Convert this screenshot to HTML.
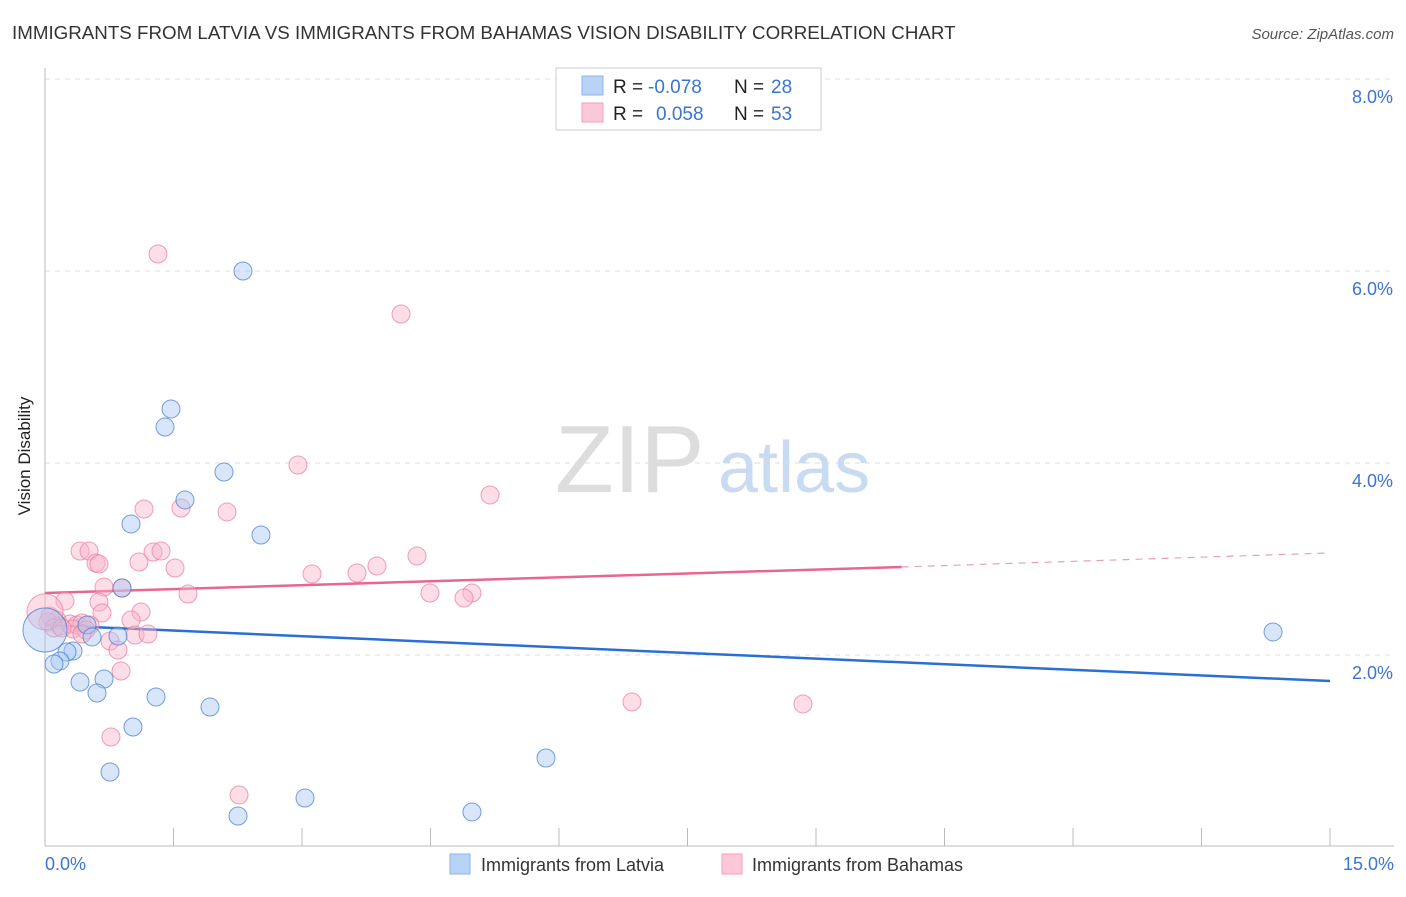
<!DOCTYPE html>
<html><head><meta charset="utf-8"><style>
body{margin:0;background:#fff;font-family:"Liberation Sans",sans-serif}
svg text{font-family:"Liberation Sans",sans-serif}
</style></head><body>
<svg width="1406" height="892" xmlns="http://www.w3.org/2000/svg">
<text x="12" y="39" font-size="18.75" fill="#333">IMMIGRANTS FROM LATVIA VS IMMIGRANTS FROM BAHAMAS VISION DISABILITY CORRELATION CHART</text>
<text x="1394" y="39" font-size="15" fill="#555" font-style="italic" text-anchor="end">Source: ZipAtlas.com</text>
<g id="grid"></g>
<text x="555" y="492" font-size="96" fill="#ddd" font-family="Liberation Serif">ZIP</text>
<text x="718" y="492" font-size="72" fill="#c9daf3">atlas</text>
<line x1="45" y1="68" x2="45" y2="846" stroke="#bbb"/>
<line x1="45" y1="846" x2="1394" y2="846" stroke="#bbb"/>
<g id="ticks"></g>
<text x="30" y="456" font-size="17" fill="#222" text-anchor="middle" transform="rotate(-90 30 456)">Vision Disability</text>
<text x="45" y="870" font-size="18" fill="#3b74d1">0.0%</text>
<text x="1394" y="870" font-size="18" fill="#3b74d1" text-anchor="end">15.0%</text>
<g id="lines"></g>
<g id="pts"></g>
<g>
<rect x="556" y="68" width="265" height="62" fill="#fff" stroke="#ccc"/>
<rect x="582" y="76" width="21" height="19" fill="#b9d3f6" stroke="#8fb4e8"/>
<rect x="582" y="103" width="21" height="19" fill="#fcc8d7" stroke="#f0a0b8"/>
<text x="613" y="93" font-size="19" fill="#222">R =</text>
<text x="648" y="93" font-size="19" fill="#3b74d1">-0.078</text>
<text x="734" y="93" font-size="19" fill="#222">N =</text>
<text x="771" y="93" font-size="19" fill="#3b74d1">28</text>
<text x="613" y="120" font-size="19" fill="#222">R =</text>
<text x="656" y="120" font-size="19" fill="#3b74d1">0.058</text>
<text x="734" y="120" font-size="19" fill="#222">N =</text>
<text x="771" y="120" font-size="19" fill="#3b74d1">53</text>
</g>
<g>
<rect x="450" y="854" width="20" height="20" fill="#b9d3f6" stroke="#8fb4e8"/>
<text x="481" y="871" font-size="18" fill="#333">Immigrants from Latvia</text>
<rect x="722" y="854" width="20" height="20" fill="#fcc8d7" stroke="#f0a0b8"/>
<text x="752" y="871" font-size="18" fill="#333">Immigrants from Bahamas</text>
</g>
</svg>
<script>
const yTicks=[2,4,6,8];
const yTickLabels=["2.0%","4.0%","6.0%","8.0%"];
const latviaX=[2.311,1.471,1.401,2.089,1.634,1.004,2.521,0.899,0.490,0.852,0.549,0.327,0.257,0.175,0.105,0.409,0.689,0.607,1.296,1.926,1.027,0.759,3.035,2.253,4.984,5.848,14.335,0];
const latviaY=[6.0,4.563,4.375,3.906,3.615,3.365,3.25,2.698,2.313,2.198,2.188,2.042,2.031,1.938,1.906,1.719,1.75,1.604,1.563,1.458,1.25,0.781,0.51,0.323,0.365,0.927,2.24,2.26];
const latviaBig=[0,0,0,0,0,0,0,0,0,0,0,0,0,0,0,0,0,0,0,0,0,0,0,0,0,0,0,1];
const bahamasX=[1.319,4.156,2.953,5.195,2.125,1.156,1.588,0.409,0.514,1.261,1.354,0.595,0.630,1.097,1.518,4.342,3.875,3.117,3.642,0.899,0.689,1.669,4.494,4.984,4.891,0.233,0.630,0.665,1.121,1.004,0.140,0.058,0.035,0.175,0.292,0.374,0.432,0.525,0.105,0.327,0.479,0.759,1.051,1.202,0.432,0.852,0.887,6.852,8.848,0.770,2.265,0,0.198];
const bahamasY=[6.177,5.552,3.979,3.667,3.49,3.521,3.531,3.083,3.083,3.073,3.083,2.958,2.948,2.969,2.906,3.031,2.927,2.844,2.854,2.698,2.708,2.635,2.646,2.646,2.594,2.563,2.552,2.438,2.448,2.365,2.365,2.406,2.344,2.302,2.323,2.313,2.333,2.313,2.281,2.271,2.26,2.146,2.208,2.219,2.219,2.052,1.833,1.51,1.49,1.146,0.542,2.45,2.281];
const latviaTrend=[[0,2.313],[15,1.729]];
const bahamasTrend=[[0,2.646],[10,2.917]];
const bahamasTrendExt=[[10,2.917],[15,3.063]];
const xTicks=[0,1.5,3,4.5,6,7.5,9,10.5,12,13.5,15];
const NS="http://www.w3.org/2000/svg";
const sx=v=>45+v/15*1285, sy=v=>847-v*96;
function mk(t,a,p){const e=document.createElementNS(NS,t);for(const k in a)e.setAttribute(k,a[k]);p.appendChild(e);return e;}
const grid=document.getElementById('grid');
yTicks.forEach((v,i)=>{
 const l=mk('line',{x1:45,x2:1394,y1:sy(v),y2:sy(v),stroke:'#ddd','stroke-dasharray':'5,5'},grid);
 
 
 const t=mk('text',{x:1393,y:sy(v)+24,'font-size':18,fill:'#3b74d1','text-anchor':'end'},grid);
 t.textContent=yTickLabels[i];
 
 
});
const topLine=mk('line',{x1:45,x2:1394,y1:79,y2:79,stroke:'#ddd','stroke-dasharray':'5,5'},grid);


const tk=document.getElementById('ticks');
xTicks.forEach(v=>{const l=mk('line',{x1:sx(v),x2:sx(v),y1:828,y2:846,stroke:'#bbb'},tk);
 
 });
const pts=document.getElementById('pts');
bahamasX.forEach((x,i)=>{const c=mk('circle',{cx:sx(x),cy:sy(bahamasY[i]),r:(i==51?18:9),fill:'rgba(250,180,200,0.45)',stroke:'rgba(235,120,155,0.7)','stroke-width':1},pts);
 
 });
latviaX.forEach((x,i)=>{const c=mk('circle',{cx:sx(x),cy:sy(latviaY[i]),r:(latviaBig[i]?22:9),fill:'rgba(170,200,245,0.45)',stroke:'rgba(60,120,210,0.7)','stroke-width':1},pts);
 
 });
const ln=document.getElementById('lines');
function tl(p,col,w,dash,name){const l=mk('line',{x1:sx(p[0][0]),y1:sy(p[0][1]),x2:sx(p[1][0]),y2:sy(p[1][1]),stroke:col,'stroke-width':w},ln);if(dash)l.setAttribute('stroke-dasharray',dash);
 
 }
tl(latviaTrend,'#2a6fd6',2.5,null,'trend-latvia');
tl(bahamasTrend,'#e8668f',2.5,null,'trend-bahamas');
tl(bahamasTrendExt,'#e8a0b5',1.2,'7,6','trend-bahamas-extension');
</script>
</body></html>
